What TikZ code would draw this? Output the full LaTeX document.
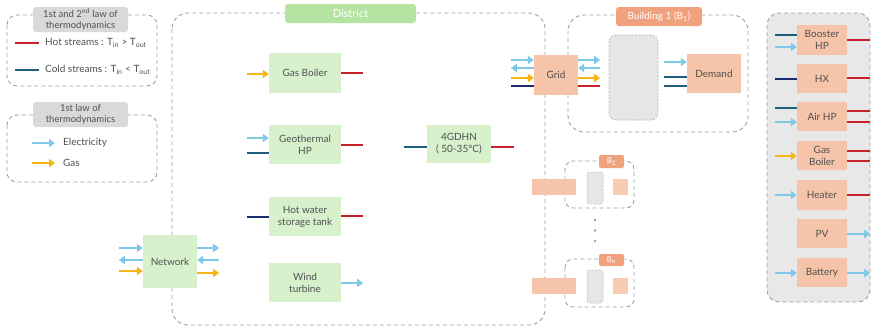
\documentclass[tikz,border=0pt]{standalone}
\usepackage{fontspec}
\setmainfont{Lato}
\usetikzlibrary{arrows.meta,calc}
\definecolor{hotc}{HTML}{C8202A}
\definecolor{coldc}{HTML}{1E5F80}
\definecolor{navyc}{HTML}{1C2A6E}
\definecolor{elecc}{HTML}{80C8E8}
\definecolor{gasc}{HTML}{F5B515}
\definecolor{greenbox}{HTML}{D6F1CC}
\definecolor{salmon}{HTML}{F6C4A8}
\definecolor{salmonlt}{HTML}{F8CBB3}
\definecolor{salmondk}{HTML}{F0A27E}
\definecolor{distg}{HTML}{B5E3A1}
\definecolor{labelg}{HTML}{D9D9D9}
\definecolor{panelg}{HTML}{E8E8E8}
\definecolor{innerg}{HTML}{E6E6E6}
\definecolor{dashc}{HTML}{A0A0A0}
\definecolor{txtc}{HTML}{505050}
\tikzset{
  bsz/.style 2 args={minimum width=#1pt, minimum height=#2pt},
  gbox/.style={fill=greenbox, text=txtc, inner sep=0pt, align=center},
  sbox/.style={fill=salmon, text=txtc, inner sep=0pt, align=center},
  dashbox/.style={draw=dashc, dash pattern=on 4pt off 3pt, line width=0.9pt},
  lbl/.style={fill=labelg, text=txtc, rounded corners=3pt, inner sep=0pt, align=center, font=\fontsize{9.5}{11}\selectfont},
  hotl/.style={draw=hotc, line width=2.9pt},
  coldl/.style={draw=coldc, line width=2.9pt},
  navyl/.style={draw=navyc, line width=2.9pt},
  elecarr/.style={draw=elecc, line width=2.9pt, -{Triangle[length=6pt,width=8pt]}},
  gasarr/.style={draw=gasc, line width=2.9pt, -{Triangle[length=6pt,width=8pt]}},
  legtxt/.style={anchor=west, text=txtc, inner sep=0pt},
}
% stub helpers: style, node, y offset, length
\newcommand{\stubLin}[4]{\draw[#1] ($(#2.west)+(-#4,#3)$) -- ($(#2.west)+(0,#3)$);}
\newcommand{\stubLout}[4]{\draw[#1] ($(#2.west)+(0,#3)$) -- ($(#2.west)+(-#4,#3)$);}
\newcommand{\stubRout}[4]{\draw[#1] ($(#2.east)+(0,#3)$) -- ($(#2.east)+(#4,#3)$);}
\newcommand{\stubRin}[4]{\draw[#1] ($(#2.east)+(#4,#3)$) -- ($(#2.east)+(0,#3)$);}
\begin{document}
\begin{tikzpicture}[x=1pt,y=-1pt,font=\fontsize{10}{12}\selectfont]
\useasboundingbox[fill=white] (0,0) rectangle (873,330);

% ---------- legends ----------
\draw[dashbox, rounded corners=10pt] (7,15) rectangle (157,86);
\node[lbl, bsz={95}{25}] (leg1) at (80.5,19.5) {1st and 2\textsuperscript{nd} law of\\thermodynamics};
\coordinate (hA) at (15,43); \coordinate (hB) at (39,43);
\draw[hotl] (hA) -- (hB);
\node[legtxt] (hott) at (45,43) {Hot streams : T\textsubscript{in} > T\textsubscript{out}};
\coordinate (cA) at (15,70); \coordinate (cB) at (39,70);
\draw[coldl] (cA) -- (cB);
\node[legtxt] (coldt) at (45,70) {Cold streams : T\textsubscript{in} < T\textsubscript{out}};

\draw[dashbox, rounded corners=10pt] (7,115) rectangle (157,182);
\node[lbl, bsz={95}{25}] (leg2) at (80.5,114.5) {1st law of\\thermodynamics};
\coordinate (eA) at (32,143); \coordinate (eB) at (55,143);
\draw[elecarr] (eA) -- (eB);
\node[legtxt] (elt) at (63,143) {Electricity};
\coordinate (gA) at (32,163); \coordinate (gB) at (55,163);
\draw[gasarr] (gA) -- (gB);
\node[legtxt] (gat) at (63,163) {Gas};

% ---------- district ----------
\draw[dashbox, rounded corners=16pt] (172,13) rectangle (545,325);
\node[fill=distg, text=white, rounded corners=3pt, bsz={131}{19}, inner sep=0pt, font=\fontsize{11}{13}\selectfont] (dist) at (350.5,13.5) {District};

\node[gbox, bsz={72}{40}] (gb) at (305,73) {Gas Boiler};
\node[gbox, bsz={72}{39}] (geo) at (305,144.5) {Geothermal\\HP};
\node[gbox, bsz={72}{39}] (hw) at (305,216.5) {Hot water\\storage tank};
\node[gbox, bsz={72}{39}] (wt) at (305,282.5) {Wind\\turbine};
\node[gbox, bsz={64}{38}] (dh) at (459,144) {4GDHN\\( 50-35°C)};
\node[gbox, bsz={54}{53}] (net) at (170,261.5) {Network};

\stubLin{gasarr}{gb}{1}{22}
\stubRout{hotl}{gb}{0}{22}
\stubLin{elecarr}{geo}{-6.5}{22}
\stubLin{coldl}{geo}{8.5}{22}
\stubRout{hotl}{geo}{0.5}{22}
\stubLin{navyl}{hw}{0.5}{22}
\stubRout{hotl}{hw}{-0.5}{22}
\stubRout{elecarr}{wt}{0.5}{22}
\stubLin{coldl}{dh}{3}{23}
\stubRout{hotl}{dh}{3}{23}

\stubLin{elecarr}{net}{-13.5}{24}
\stubLout{elecarr}{net}{-1.5}{24}
\stubLin{gasarr}{net}{9.5}{24}
\stubRout{elecarr}{net}{-13.5}{22}
\stubRin{elecarr}{net}{-1.5}{22}
\stubRout{gasarr}{net}{11.5}{22}

% ---------- building 1 ----------
\draw[dashbox, rounded corners=16pt] (568,15) rectangle (748,132);
\node[fill=salmondk, text=white, rounded corners=3pt, bsz={86}{19}, inner sep=0pt] (b1l) at (659,16.5) {Building 1 (B\textsubscript{1})};
\node[fill=innerg, draw=dashc!80, dash pattern=on 2pt off 1.5pt, line width=0.6pt, rounded corners=7pt, bsz={49}{85}, inner sep=0pt] (b1g) at (633.5,77.5) {};
\node[sbox, bsz={54}{39}] (dem) at (714,73.5) {Demand};
\node[sbox, bsz={44}{40}] (grid) at (556,75) {Grid};

\stubLin{elecarr}{dem}{-11.5}{23}
\stubLin{coldl}{dem}{3.5}{23}
\stubLin{coldl}{dem}{12.5}{23}

\stubLin{elecarr}{grid}{-15}{23}
\stubLout{elecarr}{grid}{-7}{23}
\stubLin{gasarr}{grid}{3}{23}
\stubLin{navyl}{grid}{11}{23}
\stubRout{elecarr}{grid}{-15}{22}
\stubRin{elecarr}{grid}{-7}{22}
\stubRout{gasarr}{grid}{3}{22}
\stubRout{hotl}{grid}{11}{22}

% ---------- building 2 ... n ----------
\draw[dashbox, rounded corners=8pt] (565,161) rectangle (634,208);
\node[fill=salmondk, text=white, rounded corners=2pt, bsz={25}{13}, inner sep=0pt, font=\fontsize{8}{9}\selectfont] (b2l) at (611.5,161.5) {B\textsubscript{2}};
\node[fill=innerg, draw=dashc!80, dash pattern=on 2pt off 1.5pt, line width=0.5pt, rounded corners=3pt, bsz={16}{32}, inner sep=0pt] (b2g) at (595,188) {};
\node[sbox, bsz={44}{16}] (b2grid) at (554,187) {};
\node[fill=salmonlt, bsz={15}{16}, inner sep=0pt] (b2dem) at (620.5,187) {};

\node[fill=gray!75, circle, inner sep=0pt, minimum size=2.8pt] (d1) at (595,220) {};
\node[fill=gray!75, circle, inner sep=0pt, minimum size=2.8pt] (d2) at (595,230.5) {};
\node[fill=gray!75, circle, inner sep=0pt, minimum size=2.8pt] (d3) at (595,241) {};

\draw[dashbox, rounded corners=8pt] (565,259) rectangle (634,307);
\node[fill=salmondk, text=white, rounded corners=2pt, bsz={25}{12}, inner sep=0pt, font=\fontsize{8}{9}\selectfont] (bnl) at (611.5,260) {B\textsubscript{n}};
\node[fill=innerg, draw=dashc!80, dash pattern=on 2pt off 1.5pt, line width=0.5pt, rounded corners=3pt, bsz={16}{33}, inner sep=0pt] (bng) at (595,286.5) {};
\node[sbox, bsz={44}{16}] (bngrid) at (554,286) {};
\node[fill=salmonlt, bsz={15}{16}, inner sep=0pt] (bndem) at (620.5,286) {};

% ---------- technology panel ----------
\draw[dashbox, fill=panelg, rounded corners=12pt] (767,13) rectangle (870,302);
\node[sbox, bsz={50}{30}] (bhp) at (822,40) {Booster\\HP};
\node[sbox, bsz={50}{29}] (hx) at (822,78.5) {HX};
\node[sbox, bsz={50}{29}] (ahp) at (822,116.5) {Air HP};
\node[sbox, bsz={50}{29}] (gb2) at (822,155.5) {Gas\\Boiler};
\node[sbox, bsz={50}{30}] (heat) at (822,195) {Heater};
\node[sbox, bsz={50}{29}] (pv) at (822,233.5) {PV};
\node[sbox, bsz={50}{29}] (bat) at (822,272.5) {Battery};

\stubLin{coldl}{bhp}{-5}{22}
\stubLin{elecarr}{bhp}{7}{22}
\stubRout{hotl}{bhp}{0}{23}
\stubLin{navyl}{hx}{0.5}{22}
\stubRout{hotl}{hx}{-0.5}{23}
\stubLin{coldl}{ahp}{-8.5}{22}
\stubLin{elecarr}{ahp}{5.5}{22}
\stubRout{hotl}{ahp}{-5.5}{23}
\stubRout{hotl}{ahp}{5.5}{23}
\stubLin{gasarr}{gb2}{0.5}{22}
\stubRout{hotl}{gb2}{-4.5}{23}
\stubRout{hotl}{gb2}{5.5}{23}
\stubLin{elecarr}{heat}{0}{22}
\stubRout{hotl}{heat}{0}{23}
\stubRout{elecarr}{pv}{0.5}{23}
\stubLin{elecarr}{bat}{0.5}{22}
\stubRout{elecarr}{bat}{0.5}{23}
\end{tikzpicture}
\end{document}
